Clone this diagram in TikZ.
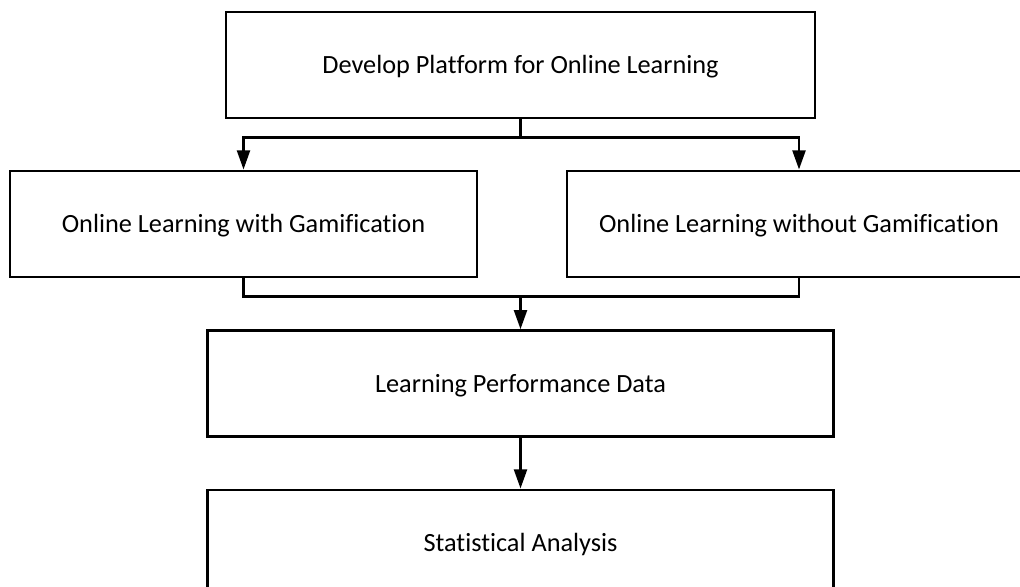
\documentclass[tikz,border=0pt]{standalone}
\usepackage{fontspec}
\setmainfont{Carlito}[Ligatures=NoCommon]
\usetikzlibrary{arrows.meta}

\tikzset{
	box/.style={draw, line width=0.7mm, minimum height=2.65cm, inner sep=0pt, text height=0.43cm, text depth=0cm, font=\fontsize{18.7}{22}\selectfont},
	link/.style={line width=0.7mm},
	flow/.style={line width=0.7mm, -{Triangle[length=4.8mm, width=3.2mm]}}
}

\begin{document}
\begin{tikzpicture}
			%%%%% START %%%%%
			
			\useasboundingbox (0, 0) rectangle (25.5, 14.675);
			
			\node[box, minimum width=14.725cm] (develop) at (13.0125, 13.05) {Develop Platform for Online Learning};
			
			\node[box, minimum width=11.675cm] (with) at (6.0875, 9.075) {Online Learning with Gamification};
			\node[box, minimum width=11.6cm] (without) at (19.975, 9.075) {Online Learning without Gamification};
			
			\node[box, minimum width=15.64cm] (results) at (13.0125, 5.0825) {Learning Performance Data};
			\node[box, minimum width=15.64cm] (analysis) at (13.0125, 1.1) {Statistical Analysis};
			
			% split into the two groups
			\coordinate (split) at (13.0125, 11.2325);
			\draw[link] (develop.south) -- (split);
			\draw[flow] (split) -| (with.north);
			\draw[flow] (split) -| (without.north);
			
			% join the two groups again
			\coordinate (merge) at (13.0125, 7.2575);
			\draw[link] (with.south) |- (merge) -| (without.south);
			\draw[flow] (merge) -- (results.north);
			
			\draw[flow] (results.south) -- (analysis.north);
			
			%%%%% END %%%%%
\end{tikzpicture}
\end{document}
